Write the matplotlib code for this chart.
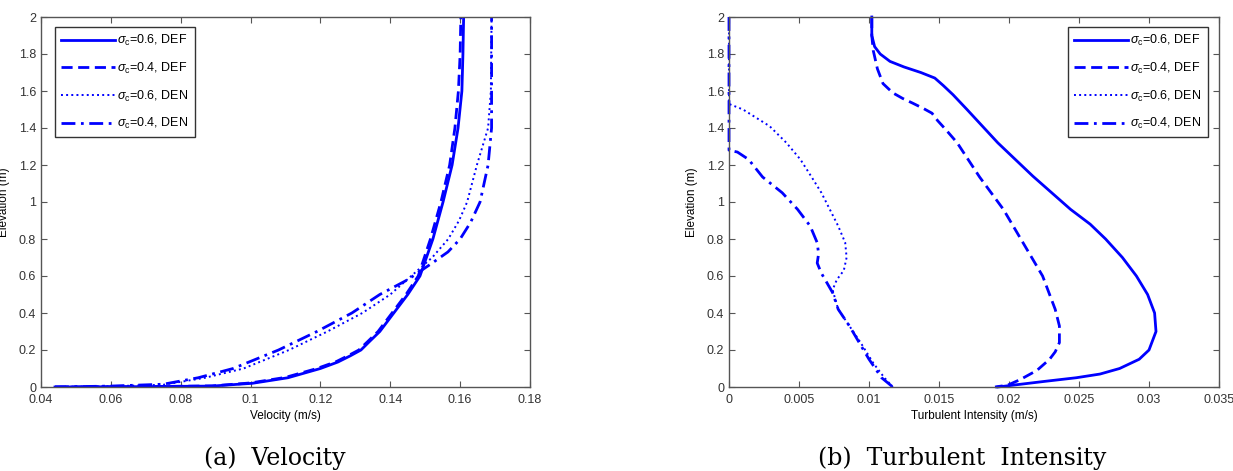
import numpy as np
import matplotlib
matplotlib.use("Agg")
import matplotlib.pyplot as plt

plt.rcParams['font.family'] = ['Liberation Sans', 'DejaVu Sans']
plt.rcParams['mathtext.fontset'] = 'custom'
plt.rcParams['mathtext.rm'] = 'Liberation Sans'
plt.rcParams['mathtext.it'] = 'Liberation Sans:italic'

# --- (a) vitesse : (vitesse m/s, elevation m) ---
vit_06_def = [0.044, 0.070, 0.089, 0.1005, 0.1107, 0.120, 0.125, 0.1285, 0.1316, 0.134, 0.137,
              0.141, 0.145, 0.1485, 0.1522, 0.1551, 0.1577, 0.1594, 0.1605, 0.1608, 0.161]
elev_06_def = [0.0, 0.002, 0.005, 0.02, 0.05, 0.1, 0.135, 0.168, 0.2, 0.245, 0.3,
               0.4, 0.5, 0.6, 0.8, 1.0, 1.2, 1.4, 1.6, 1.8, 2.0]

vit_04_def = [0.044, 0.070, 0.089, 0.100, 0.110, 0.119, 0.1245, 0.128, 0.131, 0.1335, 0.1365,
              0.1405, 0.1445, 0.148, 0.1515, 0.1545, 0.157, 0.1585, 0.1595, 0.160, 0.1602]
elev_04_def = [0.0, 0.002, 0.006, 0.022, 0.052, 0.1, 0.137, 0.17, 0.2, 0.245, 0.3,
               0.4, 0.5, 0.6, 0.8, 1.0, 1.2, 1.4, 1.6, 1.8, 2.0]

vit_06_den = [0.044, 0.060, 0.075, 0.087, 0.098, 0.111, 0.122, 0.132, 0.140, 0.146, 0.152,
              0.1566, 0.1597, 0.162, 0.1648, 0.168, 0.1688, 0.169]
elev_06_den = [0.0, 0.004, 0.012, 0.05, 0.1, 0.2, 0.3, 0.4, 0.5, 0.6, 0.7,
               0.8, 0.9, 1.0, 1.2, 1.4, 1.6, 2.0]

vit_04_den = [0.044, 0.060, 0.075, 0.085, 0.095, 0.108, 0.119, 0.129, 0.137, 0.145, 0.152,
              0.1565, 0.160, 0.163, 0.1657, 0.168, 0.169, 0.169]
elev_04_den = [0.0, 0.005, 0.015, 0.05, 0.1, 0.2, 0.3, 0.4, 0.5, 0.58, 0.67,
               0.73, 0.8, 0.89, 1.0, 1.2, 1.4, 2.0]

# --- (b) intensite turbulente : (m/s, elevation m) ---
ti_06_def = [0.0102, 0.0102, 0.0104, 0.0108, 0.0115, 0.0125, 0.0137, 0.0147, 0.0153, 0.016,
             0.017, 0.0192, 0.0217, 0.0244, 0.0258, 0.0269, 0.0281, 0.0291, 0.0299, 0.0304,
             0.0305, 0.0300, 0.0293, 0.0279, 0.0265, 0.0248, 0.0225, 0.0203, 0.0192]
ti_elev_06_def = [2.0, 1.9, 1.84, 1.8, 1.76, 1.73, 1.7, 1.67, 1.63, 1.58,
                  1.5, 1.32, 1.14, 0.96, 0.88, 0.8, 0.7, 0.6, 0.5, 0.4,
                  0.3, 0.2, 0.15, 0.1, 0.07, 0.05, 0.03, 0.01, 0.0]

ti_04_def = [0.0102, 0.0102, 0.0103, 0.0106, 0.011, 0.0117, 0.0124, 0.0131, 0.0139, 0.0145,
             0.0149, 0.0155, 0.0163, 0.0179, 0.0196, 0.021, 0.0224, 0.0233, 0.0236, 0.0236,
             0.0233, 0.0229, 0.022, 0.0208, 0.0199, 0.019]
ti_elev_04_def = [2.0, 1.9, 1.82, 1.72, 1.64, 1.59, 1.56, 1.535, 1.505, 1.48,
                  1.44, 1.39, 1.32, 1.135, 0.96, 0.78, 0.6, 0.42, 0.33, 0.24,
                  0.19, 0.15, 0.09, 0.04, 0.01, 0.0]

ti_06_den = [0.0, 0.0, 0.001, 0.0029, 0.0041, 0.0051, 0.0059, 0.0066, 0.0072, 0.0078,
             0.0083, 0.0084, 0.0082, 0.0077, 0.0074, 0.0078, 0.0086, 0.0094, 0.0103, 0.0111,
             0.0117]
ti_elev_06_den = [2.0, 1.53, 1.5, 1.41, 1.32, 1.23, 1.135, 1.05, 0.96, 0.87,
                  0.78, 0.70, 0.63, 0.58, 0.525, 0.42, 0.33, 0.24, 0.13, 0.05,
                  0.0]

ti_04_den = [0.0, 0.0, 0.0006, 0.0014, 0.0024, 0.0038, 0.0049, 0.0058, 0.0063, 0.0064,
             0.0063, 0.0066, 0.0074, 0.0078, 0.0086, 0.0093, 0.0100, 0.0109, 0.0117]
ti_elev_04_den = [2.0, 1.28, 1.27, 1.23, 1.135, 1.05, 0.96, 0.87, 0.78, 0.72,
                  0.67, 0.615, 0.51, 0.42, 0.33, 0.24, 0.15, 0.05, 0.0]

labels = [r'$\sigma_{\rm c}$=0.6, DEF', r'$\sigma_{\rm c}$=0.4, DEF',
          r'$\sigma_{\rm c}$=0.6, DEN', r'$\sigma_{\rm c}$=0.4, DEN']
styles = ['-', (0, (4, 2)), ':', (0, (5, 2, 1, 2))]
largeurs = [2.0, 2.0, 1.4, 2.0]

bleu = (0, 0, 1)
gris = '#555555'

fig = plt.figure(figsize=(12.33, 4.71), dpi=100)
ax1 = fig.add_axes([41/1233, 1 - 387/471, (530 - 41)/1233, 370/471])
ax2 = fig.add_axes([729/1233, 1 - 387/471, (1219 - 729)/1233, 370/471])

donnees_a = [(vit_06_def, elev_06_def), (vit_04_def, elev_04_def),
             (vit_06_den, elev_06_den), (vit_04_den, elev_04_den)]
donnees_b = [(ti_06_def, ti_elev_06_def), (ti_04_def, ti_elev_04_def),
             (ti_06_den, ti_elev_06_den), (ti_04_den, ti_elev_04_den)]

for (x, y), lab, ls, lw in zip(donnees_a, labels, styles, largeurs):
    ax1.plot(x, y, color=bleu, linestyle=ls, linewidth=lw, label=lab)
for (x, y), lab, ls, lw in zip(donnees_b, labels, styles, largeurs):
    ax2.plot(x, y, color=bleu, linestyle=ls, linewidth=lw, label=lab, clip_on=False)

ax1.set_xlim(0.04, 0.18)
ax1.set_xticks(np.arange(0.04, 0.181, 0.02))
ax1.set_xticklabels(['0.04', '0.06', '0.08', '0.1', '0.12', '0.14', '0.16', '0.18'])
ax1.set_xlabel('Velocity (m/s)', fontsize=8.5, labelpad=3)

ax2.set_xlim(0, 0.035)
ax2.set_xticks(np.arange(0, 0.0351, 0.005))
ax2.set_xticklabels(['0', '0.005', '0.01', '0.015', '0.02', '0.025', '0.03', '0.035'])
ax2.set_xlabel('Turbulent Intensity (m/s)', fontsize=8.5, labelpad=3)

for ax in (ax1, ax2):
    ax.set_ylim(0, 2)
    ax.set_yticks(np.arange(0, 2.01, 0.2))
    ax.set_yticklabels(['0', '0.2', '0.4', '0.6', '0.8', '1', '1.2', '1.4', '1.6', '1.8', '2'])
    ax.set_ylabel('Elevation (m)', fontsize=8.5, labelpad=6)
    ax.tick_params(direction='in', top=True, right=True, length=4, width=0.8,
                   colors=gris, labelcolor='#333333', labelsize=9)
    ax.tick_params(axis='x', pad=5)
    for s in ax.spines.values():
        s.set_color(gris)
        s.set_linewidth(1.0)

leg_args = dict(fontsize=9, handlelength=4.3, labelspacing=1.0, handletextpad=0.2,
                borderpad=0.5, fancybox=False, framealpha=1, edgecolor='#333333')
l1 = ax1.legend(loc='upper left', bbox_to_anchor=(0.015, 0.99), **leg_args)
l2 = ax2.legend(loc='upper right', bbox_to_anchor=(0.99, 0.99), **leg_args)
for l in (l1, l2):
    l.get_frame().set_linewidth(1.0)

fig.text(275/1233, 1 - 458/471, '(a)  Velocity', family=['DejaVu Serif'],
         fontsize=17, ha='center', va='center')
fig.text(962/1233, 1 - 458/471, '(b)  Turbulent  Intensity', family=['DejaVu Serif'],
         fontsize=17, ha='center', va='center')

fig.savefig('out.png', dpi=100)
